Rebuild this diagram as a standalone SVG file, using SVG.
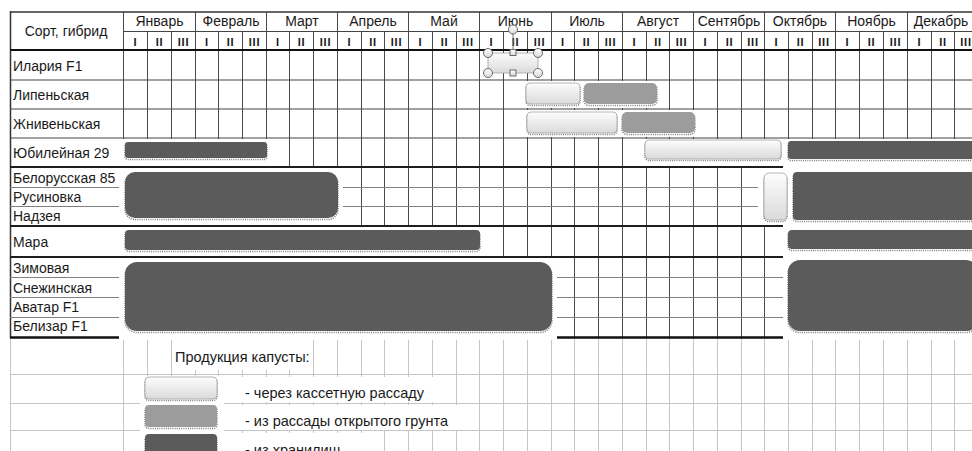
<svg xmlns="http://www.w3.org/2000/svg" width="972" height="451" viewBox="0 0 972 451">
<style>
text{font-family:"Liberation Sans","Noto Sans",Arial,sans-serif;fill:#1a1a1a}
.lb{font-size:14px}
.mo{font-size:14px;text-anchor:middle}
.dc{font-size:11px;text-anchor:middle;letter-spacing:0.8px;font-weight:bold}
.hd{font-size:14px;text-anchor:middle}
.lg{font-size:14.5px}
.vg{fill:none;stroke:#4a4a4a;stroke-width:1}
.vl{fill:none;stroke:#c6c6c6;stroke-width:1}
.hl{stroke:#444;stroke-width:1.2}
.hth{stroke:#1e1e1e;stroke-width:2}
.hs{stroke:#808080;stroke-width:1}
.hlt{stroke:#c6c6c6;stroke-width:1}
.halo{fill:#fff}
.sh{fill:none;stroke:#7c7c7c;stroke-width:1.6;stroke-dasharray:1 1.2}
.dk{fill:#5b5b5b}
.md{fill:#9c9c9c}
.lt{fill:url(#gl);stroke:#a5a5a5;stroke-width:0.8}
.hnd{fill:url(#gh);stroke:#6a6a6a;stroke-width:1}
</style>
<defs>
<linearGradient id="gl" x1="0" y1="0" x2="0" y2="1">
<stop offset="0" stop-color="#fdfdfd"/>
<stop offset="1" stop-color="#dadada"/>
</linearGradient>
<linearGradient id="gh" x1="0" y1="0" x2="0" y2="1">
<stop offset="0" stop-color="#ffffff"/>
<stop offset="1" stop-color="#d8d8d8"/>
</linearGradient>
</defs>
<rect width="972" height="451" fill="#fff"/>

<g id="grid">
<path class="vl" d="M10.5 338V451M123.5 338V451M147.5 338V451M171.5 338V451M195.5 338V451M218.5 338V451M242.5 338V451M266.5 338V451M289.5 338V451M313.5 338V451M337.5 338V451M361.5 338V451M384.5 338V451M408.5 338V451M432.5 338V451M456.5 338V451M479.5 338V451M503.5 338V451M527.5 338V451M551.5 338V451M574.5 338V451M598.5 338V451M622.5 338V451M646.5 338V451M669.5 338V451M693.5 338V451M717.5 338V451M741.5 338V451M764.5 338V451M788.5 338V451M812.5 338V451M835.5 338V451M859.5 338V451M883.5 338V451M907.5 338V451M931.5 338V451M954.5 338V451"/>
<line class="hlt" x1="10" y1="374.5" x2="972" y2="374.5"/>
<line class="hlt" x1="10" y1="403.5" x2="972" y2="403.5"/>
<line class="hlt" x1="10" y1="430.5" x2="972" y2="430.5"/>
<path class="vg" d="M123.5 12V337M195.5 12V337M266.5 12V337M337.5 12V337M408.5 12V337M479.5 12V337M551.5 12V337M622.5 12V337M693.5 12V337M764.5 12V337M835.5 12V337M907.5 12V337"/>
<path class="vg" d="M147.5 31V337M171.5 31V337M218.5 31V337M242.5 31V337M289.5 31V337M313.5 31V337M361.5 31V337M384.5 31V337M432.5 31V337M456.5 31V337M503.5 31V337M527.5 31V337M574.5 31V337M598.5 31V337M646.5 31V337M669.5 31V337M717.5 31V337M741.5 31V337M788.5 31V337M812.5 31V337M859.5 31V337M883.5 31V337M931.5 31V337M954.5 31V337"/>
<line x1="10.5" y1="11" x2="10.5" y2="338" stroke="#333" stroke-width="1.5"/>
<line x1="10" y1="12" x2="972" y2="12" stroke="#333" stroke-width="1.5"/>
<line x1="123" y1="31.5" x2="972" y2="31.5" stroke="#444" stroke-width="1"/>
<line x1="10" y1="50" x2="972" y2="50" stroke="#111" stroke-width="2"/>
<line class="hl" x1="10" y1="80" x2="972" y2="80"/>
<line class="hl" x1="10" y1="109" x2="972" y2="109"/>
<line class="hl" x1="10" y1="138" x2="972" y2="138"/>
<line class="hth" x1="10" y1="167" x2="972" y2="167"/>
<line class="hs" x1="10" y1="187.5" x2="972" y2="187.5"/>
<line class="hs" x1="10" y1="206.5" x2="972" y2="206.5"/>
<line class="hth" x1="10" y1="226" x2="972" y2="226"/>
<line class="hth" x1="10" y1="257" x2="972" y2="257"/>
<line class="hs" x1="10" y1="277.5" x2="972" y2="277.5"/>
<line class="hs" x1="10" y1="297.5" x2="972" y2="297.5"/>
<line class="hs" x1="10" y1="317.5" x2="972" y2="317.5"/>
<line x1="10" y1="337.5" x2="972" y2="337.5" stroke="#111" stroke-width="2.5"/>
</g>

<g id="header">
<text class="hd" x="66" y="36">Сорт, гибрид</text>
<text class="mo" x="159.5" y="26">Январь</text>
<text class="mo" x="231" y="26">Февраль</text>
<text class="mo" x="302" y="26">Март</text>
<text class="mo" x="373" y="26">Апрель</text>
<text class="mo" x="444" y="26">Май</text>
<text class="mo" x="515.5" y="26">Июнь</text>
<text class="mo" x="587" y="26">Июль</text>
<text class="mo" x="658" y="26">Август</text>
<text class="mo" x="729" y="26">Сентябрь</text>
<text class="mo" x="800" y="26">Октябрь</text>
<text class="mo" x="871.5" y="26">Ноябрь</text>
<text class="mo" x="941" y="26">Декабрь</text>
<g class="dc">
<text x="135.5" y="46">I</text><text x="159.5" y="46">II</text><text x="183.5" y="46">III</text>
<text x="207" y="46">I</text><text x="230.5" y="46">II</text><text x="254.5" y="46">III</text>
<text x="278" y="46">I</text><text x="301.5" y="46">II</text><text x="325.5" y="46">III</text>
<text x="349.5" y="46">I</text><text x="373" y="46">II</text><text x="396.5" y="46">III</text>
<text x="420.5" y="46">I</text><text x="444.5" y="46">II</text><text x="468" y="46">III</text>
<text x="491.5" y="46">I</text><text x="515.5" y="46">II</text><text x="539.5" y="46">III</text>
<text x="563" y="46">I</text><text x="586.5" y="46">II</text><text x="610.5" y="46">III</text>
<text x="634.5" y="46">I</text><text x="658" y="46">II</text><text x="681.5" y="46">III</text>
<text x="705.5" y="46">I</text><text x="729.5" y="46">II</text><text x="753" y="46">III</text>
<text x="776.5" y="46">I</text><text x="800.5" y="46">II</text><text x="824" y="46">III</text>
<text x="847.5" y="46">I</text><text x="871.5" y="46">II</text><text x="895.5" y="46">III</text>
<text x="919.5" y="46">I</text><text x="943" y="46">II</text><text x="966" y="46">III</text>
</g>
</g>

<g id="labels" class="lb">
<text x="13" y="71">Илария F1</text>
<text x="13" y="100">Липеньская</text>
<text x="13" y="129">Жнивеньская</text>
<text x="13" y="158">Юбилейная 29</text>
<text x="13" y="183">Белорусская 85</text>
<text x="13" y="202">Русиновка</text>
<text x="13" y="221">Надзея</text>
<text x="13" y="247">Мара</text>
<text x="13" y="273">Зимовая</text>
<text x="13" y="293">Снежинская</text>
<text x="13" y="312">Аватар F1</text>
<text x="13" y="331">Белизар F1</text>
</g>

<g id="halos" class="halo">
<rect x="119" y="139" width="155" height="27"/>
<rect x="119" y="168" width="224" height="57"/>
<rect x="119" y="227" width="365" height="29"/>
<rect x="119" y="258" width="438" height="82"/>
<rect x="520" y="81" width="143" height="27"/>
<rect x="520" y="110" width="182" height="27"/>
<rect x="641" y="139" width="144" height="27"/>
<rect x="758" y="168" width="33" height="57"/>
<rect x="783" y="139" width="189" height="201"/>
<rect x="140" y="376" width="84" height="75"/>
<rect x="173" y="340" width="139" height="30"/>
<rect x="238" y="377" width="196" height="25"/>
<rect x="238" y="405" width="222" height="25"/>
<rect x="238" y="433" width="126" height="18"/>
</g>

<g id="bar-ilaria">
<rect class="lt" x="488" y="53" width="50" height="20" rx="4"/>
<line x1="513" y1="33.5" x2="513" y2="49" stroke="#777" stroke-width="1"/>
<circle class="hnd" cx="513" cy="29.5" r="4.5"/>
<circle class="hnd" cx="488" cy="53" r="4.5"/>
<circle class="hnd" cx="538" cy="53" r="4.5"/>
<circle class="hnd" cx="488" cy="73" r="4.5"/>
<circle class="hnd" cx="538" cy="73" r="4.5"/>
<rect class="hnd" x="510" y="49.5" width="6" height="6"/>
<rect class="hnd" x="510" y="70" width="6" height="6"/>
</g>

<g id="bar-lipenskaya">
<rect class="sh" x="526" y="84.5" width="54" height="21" rx="4"/>
<rect class="lt" x="526" y="83" width="54" height="21" rx="4"/>
<rect class="sh" x="584" y="84.5" width="73" height="21" rx="5"/>
<rect class="md" x="584" y="83" width="73" height="21" rx="5"/>
</g>

<g id="bar-zhnivenskaya">
<rect class="sh" x="527" y="113.5" width="90" height="21" rx="4"/>
<rect class="lt" x="527" y="112" width="90" height="21" rx="4"/>
<rect class="sh" x="622" y="113.5" width="73" height="21" rx="5"/>
<rect class="md" x="622" y="112" width="73" height="21" rx="5"/>
</g>

<g id="bar-yubileynaya">
<rect class="sh" x="125" y="143.5" width="142" height="16" rx="3"/>
<rect class="dk" x="125" y="142" width="142" height="16" rx="3"/>
<rect class="sh" x="645" y="141.5" width="136" height="19" rx="4"/>
<rect class="lt" x="645" y="140" width="136" height="19" rx="4"/>
<rect class="sh" x="788" y="142.5" width="190" height="18" rx="3"/>
<rect class="dk" x="788" y="141" width="190" height="18" rx="3"/>
</g>

<g id="bar-belorusskaya">
<rect class="sh" x="125" y="173.5" width="213" height="46" rx="10"/>
<rect class="dk" x="125" y="172" width="213" height="46" rx="10"/>
<rect class="sh" x="764" y="174.5" width="23" height="47" rx="5"/>
<rect class="lt" x="764" y="173" width="23" height="47" rx="5"/>
<rect class="sh" x="793" y="173.5" width="185" height="48" rx="4"/>
<rect class="dk" x="793" y="172" width="185" height="48" rx="4"/>
</g>

<g id="bar-mara">
<rect class="sh" x="125" y="231.5" width="355" height="20" rx="4"/>
<rect class="dk" x="125" y="230" width="355" height="20" rx="4"/>
<rect class="sh" x="788" y="231.5" width="190" height="19" rx="4"/>
<rect class="dk" x="788" y="230" width="190" height="19" rx="4"/>
</g>

<g id="bar-zimovaya">
<rect class="sh" x="125" y="263.5" width="427" height="69" rx="12"/>
<rect class="dk" x="125" y="262" width="427" height="69" rx="12"/>
<rect class="sh" x="788" y="261.5" width="190" height="71" rx="12"/>
<rect class="dk" x="788" y="260" width="190" height="71" rx="12"/>
</g>

<g id="legend">
<text class="lg" x="175" y="362">Продукция капусты:</text>
<rect class="sh" x="145" y="378.5" width="72" height="22" rx="4"/>
<rect class="lt" x="145" y="377" width="72" height="22" rx="4"/>
<text class="lg" x="245" y="398">- через кассетную рассаду</text>
<rect class="sh" x="145" y="406.5" width="72" height="22" rx="4"/>
<rect class="md" x="145" y="405" width="72" height="22" rx="4"/>
<text class="lg" x="245" y="426">- из рассады открытого грунта</text>
<rect class="sh" x="145" y="435.5" width="72" height="22" rx="4"/>
<rect class="dk" x="145" y="434" width="72" height="22" rx="4"/>
<text class="lg" x="245" y="455">- из хранилищ</text>
</g>
</svg>
